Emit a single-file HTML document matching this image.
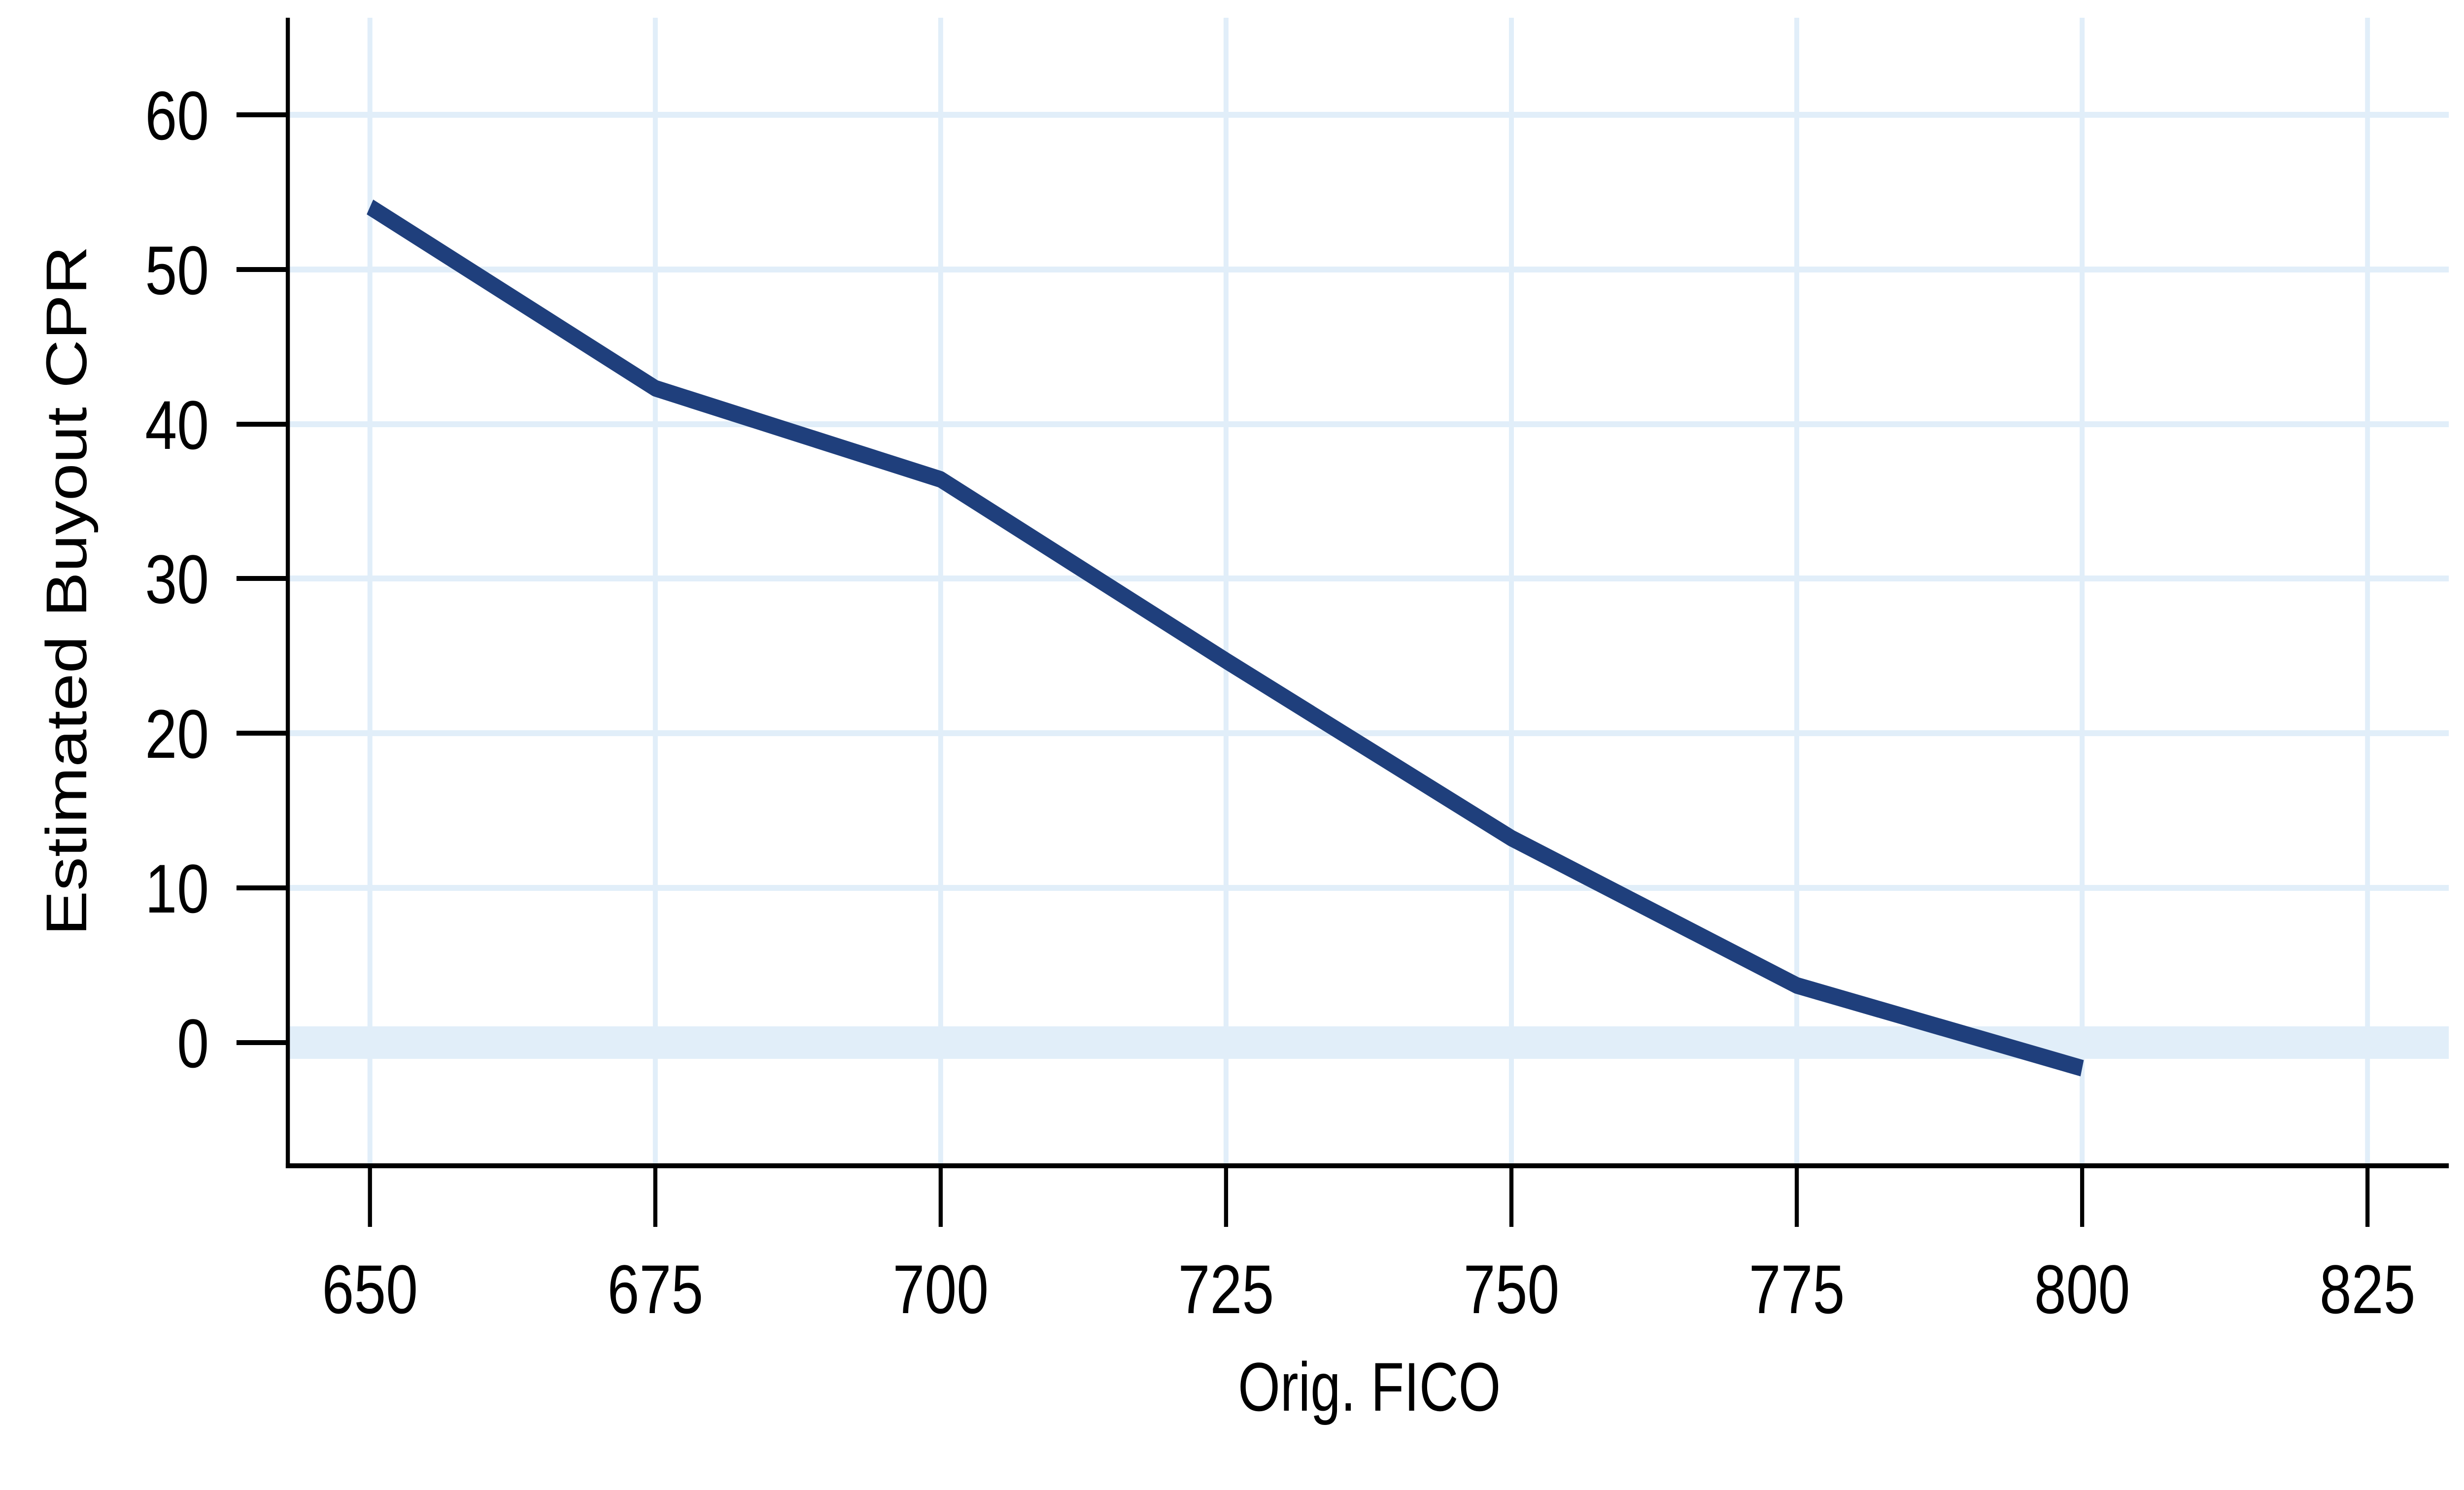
<!DOCTYPE html>
<html><head><meta charset="utf-8"><style>html,body{margin:0;padding:0;background:#fff;width:100%;height:100%;overflow:hidden;}svg{display:block;width:100vw;height:100vh;}</style></head>
<body>
<svg viewBox="0 0 6001 3024" preserveAspectRatio="none" xmlns="http://www.w3.org/2000/svg" font-family="'Liberation Sans', sans-serif">
<rect width="6001" height="3024" fill="#fff"/>
<g stroke="#e1eef9" stroke-width="12">
<line x1="700" y1="233" x2="5964" y2="233"/>
<line x1="700" y1="547" x2="5964" y2="547"/>
<line x1="700" y1="861" x2="5964" y2="861"/>
<line x1="700" y1="1174" x2="5964" y2="1174"/>
<line x1="700" y1="1488" x2="5964" y2="1488"/>
<line x1="700" y1="1802" x2="5964" y2="1802"/>
<line x1="901" y1="36" x2="901" y2="2366"/>
<line x1="1596" y1="36" x2="1596" y2="2366"/>
<line x1="2291" y1="36" x2="2291" y2="2366"/>
<line x1="2986" y1="36" x2="2986" y2="2366"/>
<line x1="3681" y1="36" x2="3681" y2="2366"/>
<line x1="4376" y1="36" x2="4376" y2="2366"/>
<line x1="5071" y1="36" x2="5071" y2="2366"/>
<line x1="5766" y1="36" x2="5766" y2="2366"/>
</g>
<line x1="700" y1="2116" x2="5964" y2="2116" stroke="#e1eef9" stroke-width="66"/>
<polyline fill="none" stroke="#1f3f7c" stroke-width="34" stroke-linejoin="round" points="901,420 1596,788 2291,973 2986,1341 3681,1701 4376,2000 5071,2168"/>
<g stroke="#000" stroke-width="10">
<line x1="701" y1="36" x2="701" y2="2371"/>
<line x1="696" y1="2366" x2="5964" y2="2366"/>
<line x1="576" y1="233" x2="701" y2="233"/>
<line x1="576" y1="547" x2="701" y2="547"/>
<line x1="576" y1="861" x2="701" y2="861"/>
<line x1="576" y1="1174" x2="701" y2="1174"/>
<line x1="576" y1="1488" x2="701" y2="1488"/>
<line x1="576" y1="1802" x2="701" y2="1802"/>
<line x1="576" y1="2116" x2="701" y2="2116"/>
<line x1="901" y1="2366" x2="901" y2="2490"/>
<line x1="1596" y1="2366" x2="1596" y2="2490"/>
<line x1="2291" y1="2366" x2="2291" y2="2490"/>
<line x1="2986" y1="2366" x2="2986" y2="2490"/>
<line x1="3681" y1="2366" x2="3681" y2="2490"/>
<line x1="4376" y1="2366" x2="4376" y2="2490"/>
<line x1="5071" y1="2366" x2="5071" y2="2490"/>
<line x1="5766" y1="2366" x2="5766" y2="2490"/>
</g>
<g font-size="140" fill="#000" text-anchor="end">
<text x="509" y="283">60</text>
<text x="509" y="597">50</text>
<text x="509" y="911">40</text>
<text x="509" y="1224">30</text>
<text x="509" y="1538">20</text>
<text x="509" y="1852">10</text>
<text x="509" y="2166">0</text>
</g>
<g font-size="140" fill="#000" text-anchor="middle">
<text x="901" y="2665">650</text>
<text x="1596" y="2665">675</text>
<text x="2291" y="2665">700</text>
<text x="2986" y="2665">725</text>
<text x="3681" y="2665">750</text>
<text x="4376" y="2665">775</text>
<text x="5071" y="2665">800</text>
<text x="5766" y="2665">825</text>
<text x="3335" y="2863" textLength="640" lengthAdjust="spacingAndGlyphs">Orig. FICO</text>
<text transform="translate(210,1199) rotate(-90)" x="0" y="0" textLength="1400" lengthAdjust="spacingAndGlyphs">Estimated Buyout CPR</text>
</g>
</svg>
</body></html>
